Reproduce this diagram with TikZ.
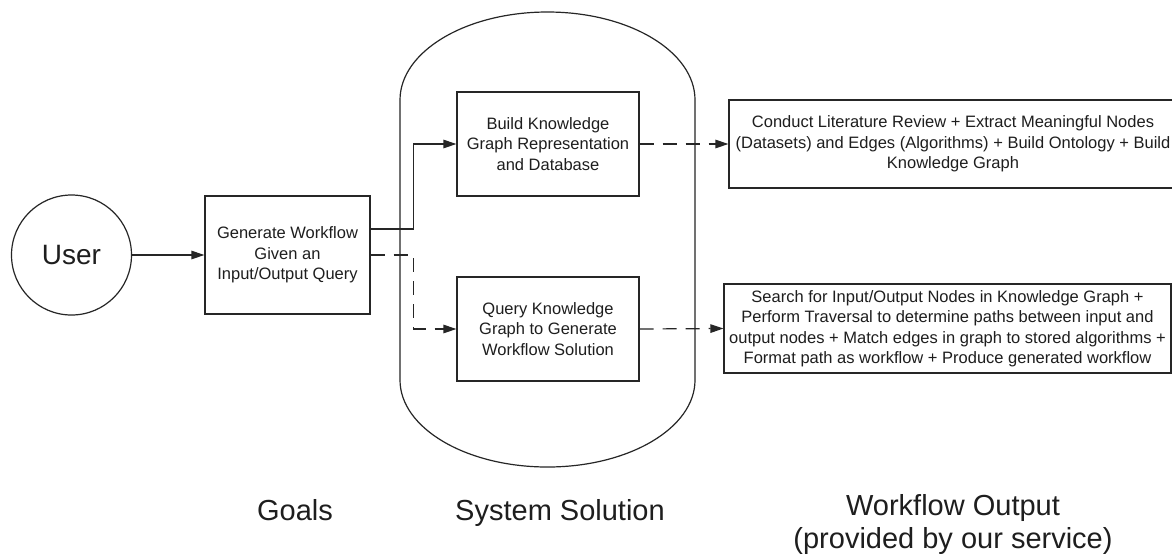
\documentclass[tikz,border=0pt]{standalone}
\usepackage{fontspec}
\setmainfont{Liberation Sans}
\usetikzlibrary{arrows.meta,positioning,calc}
\definecolor{ink}{HTML}{262626}
\definecolor{txt}{HTML}{1E1E1E}
\begin{document}
\begin{tikzpicture}[x=1pt,y=-1pt,
  line width=1.2pt, draw=ink,
  boxtext/.style={font=\fontsize{16.5}{20.5}\selectfont, text=txt, align=center},
  procbox/.style={draw=ink, line width=1.2pt, rectangle, inner sep=0pt, boxtext},
  lbl/.style={font=\fontsize{29}{33}\selectfont, text=txt, align=center, inner sep=0pt},
  arr/.style={-{Triangle[length=13pt,width=8.5pt]}, draw=ink, line width=1.2pt},
  dsh/.style={dash pattern=on 14pt off 9pt}
]
\useasboundingbox (0,0) rectangle (1172,558);
\fill[white] (0,0) rectangle (1172,558);

% cylinder
\draw[ink, line width=1.2pt] (400,100) arc[start angle=180, end angle=0, x radius=147.5pt, y radius=88pt]
  -- (695,380) arc[start angle=0, end angle=-180, x radius=147.5pt, y radius=87pt] -- cycle;

\node[circle, draw=ink, line width=1.2pt, minimum size=120pt, inner sep=0pt,
      font=\fontsize{28}{32}\selectfont, text=txt] (user) at (71.5,255) {User};

\node[procbox, minimum width=165pt, minimum height=118pt] (gen) at (287.5,255)
  {Generate Workflow\\Given an\\Input/Output Query};

\node[procbox, minimum width=182pt, minimum height=104pt] (build) at (548,144)
  {Build Knowledge\\Graph Representation\\and Database};

\node[procbox, minimum width=182pt, minimum height=104pt] (query) at (548,329)
  {Query Knowledge\\Graph to Generate\\Workflow Solution};

\node[procbox, minimum width=448pt, minimum height=88pt] (out1) at (953,144)
  {Conduct Literature Review + Extract Meaningful Nodes\\(Datasets) and Edges (Algorithms) + Build Ontology + Build\\Knowledge Graph};

\node[procbox, minimum width=447pt, minimum height=89pt] (out2) at (947.5,328.5)
  {Search for Input/Output Nodes in Knowledge Graph +\\Perform Traversal to determine paths between input and\\output nodes + Match edges in graph to stored algorithms +\\Format path as workflow + Produce generated workflow};

% connectors
\draw[arr] (user) -- (gen);
\draw[arr] ([yshift=26pt]gen.east) -- ++(43,0) |- (build.west);
\draw[arr, dsh] (gen.east) -- ++(43,0) |- (query.west);
\draw[arr, dsh] (build.east) -- (out1.west);
\draw[arr, dsh] (query.east) -- (out2.west);

% labels
\node[lbl, anchor=base] (goals) at (295,520) {Goals};
\node[lbl, anchor=base] (sys) at (560,520) {System Solution};
\node[lbl] (wfo) at (953,524) {Workflow Output\\(provided by our service)};
\end{tikzpicture}
\end{document}
